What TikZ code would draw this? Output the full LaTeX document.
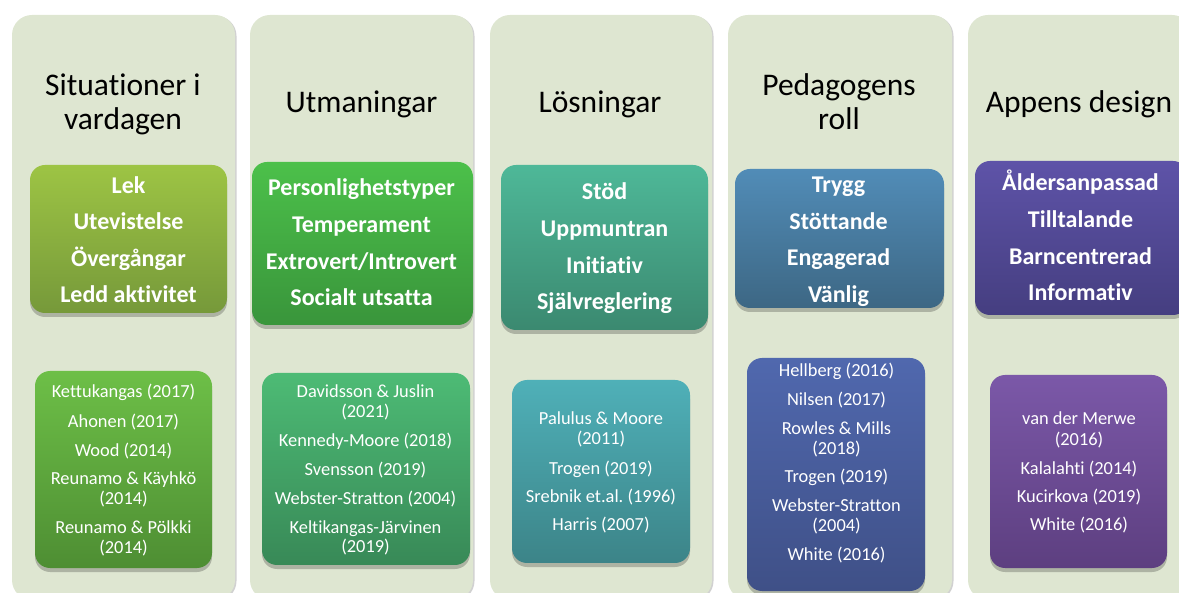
\documentclass[tikz,border=0pt]{standalone}
\usepackage{fontspec}
\setmainfont{Carlito}[Ligatures={NoCommon}]
\usetikzlibrary{shadows}
\definecolor{panelc}{HTML}{DEE6D1}
\definecolor{aT}{HTML}{9DC444}\definecolor{aB}{HTML}{76993A}
\definecolor{aaT}{HTML}{6DBF47}\definecolor{aaB}{HTML}{4E8E33}
\definecolor{bT}{HTML}{4CC04A}\definecolor{bB}{HTML}{39953B}
\definecolor{bbT}{HTML}{4DBB75}\definecolor{bbB}{HTML}{388957}
\definecolor{cT}{HTML}{4EB898}\definecolor{cB}{HTML}{3B8970}
\definecolor{ccT}{HTML}{4FB0B8}\definecolor{ccB}{HTML}{3C8488}
\definecolor{dT}{HTML}{518CB7}\definecolor{dB}{HTML}{3D6784}
\definecolor{ddT}{HTML}{5068AE}\definecolor{ddB}{HTML}{3F5087}
\definecolor{eT}{HTML}{5E53A8}\definecolor{eB}{HTML}{453E80}
\definecolor{eeT}{HTML}{7B58A8}\definecolor{eeB}{HTML}{5D3F80}
\tikzset{
  panel/.style={fill=panelc, rounded corners=20pt, draw=none,
    drop shadow={shadow xshift=1.5pt, shadow yshift=-1pt, opacity=0.18, fill=black}},
  cbox/.style n args={2}{rounded corners=15pt, draw=none, top color=#1, bottom color=#2,
    drop shadow={shadow xshift=0pt, shadow yshift=-4pt, opacity=0.22, fill=black}},
  hdr/.style={anchor=base, inner sep=0pt, font=\fontsize{31.5}{34}\selectfont, text=black},
  kw/.style={anchor=base, inner sep=0pt, font=\fontsize{24}{26}\selectfont\bfseries, text=white},
  rf/.style={anchor=base, inner sep=0pt, font=\fontsize{18.4}{20}\selectfont, text=white},
}
\begin{document}
\begin{tikzpicture}[x=1pt,y=-1pt]
\useasboundingbox (0,0) rectangle (1179,593);
% panels
\path[panel] (12,15) rectangle (235,600);
\path[panel] (250,15) rectangle (473,600);
\path[panel] (490,15) rectangle (712,600);
\path[panel] (728,15) rectangle (952,600);
\path[panel] (968,15) rectangle (1192,600);
% headers
\node[hdr] (h1a) at (123,96) {Situationer i};
\node[hdr] (h1b) at (123,130) {vardagen};
\node[hdr] (h2) at (361.5,113) {Utmaningar};
\node[hdr] (h3) at (600,113) {Lösningar};
\node[hdr] (h4a) at (839,96) {Pedagogens};
\node[hdr] (h4b) at (839,130) {roll};
\node[hdr] (h5) at (1079,113) {Appens design};
% top boxes
\path[cbox={aT}{aB}] (30,165) rectangle (227,313);
\path[cbox={bT}{bB}] (252,162) rectangle (473,325);
\path[cbox={cT}{cB}] (501,165) rectangle (708,330);
\path[cbox={dT}{dB}] (735,169) rectangle (944,308);
\path[cbox={eT}{eB}] (975,161) rectangle (1188,315);
% bottom boxes
\path[cbox={aaT}{aaB}] (35,371) rectangle (212,568);
\path[cbox={bbT}{bbB}] (262,373) rectangle (470,565);
\path[cbox={ccT}{ccB}] (512,380) rectangle (690,563);
\path[cbox={ddT}{ddB}] (747,358) rectangle (925,591);
\path[cbox={eeT}{eeB}] (990,375) rectangle (1167,568);
% column 1 keywords
\node[kw] (k11) at (128.5,194) {Lek};
\node[kw] (k12) at (128.5,230) {Utevistelse};
\node[kw] (k13) at (128.5,266.5) {Övergångar};
\node[kw] (k14) at (128.5,303) {Ledd aktivitet};
% column 2 keywords
\node[kw] (k21) at (361.5,196) {Personlighetstyper};
\node[kw] (k22) at (361.5,233) {Temperament};
\node[kw] (k23) at (361.5,269.5) {Extrovert/Introvert};
\node[kw] (k24) at (361.5,306) {Socialt utsatta};
% column 3 keywords
\node[kw] (k31) at (604.5,200) {Stöd};
\node[kw] (k32) at (604.5,237) {Uppmuntran};
\node[kw] (k33) at (604.5,273.5) {Initiativ};
\node[kw] (k34) at (604.5,309.5) {Självreglering};
% column 4 keywords
\node[kw] (k41) at (838.5,193) {Trygg};
\node[kw] (k42) at (838.5,229.5) {Stöttande};
\node[kw] (k43) at (838.5,266) {Engagerad};
\node[kw] (k44) at (838.5,302.5) {Vänlig};
% column 5 keywords
\node[kw] (k51) at (1080.5,191) {Åldersanpassad};
\node[kw] (k52) at (1080.5,228) {Tilltalande};
\node[kw] (k53) at (1080.5,264.5) {Barncentrerad};
\node[kw] (k54) at (1080.5,301) {Informativ};
% column 1 references
\node[rf] (r11) at (123.5,398) {Kettukangas (2017)};
\node[rf] (r12) at (123.5,427.5) {Ahonen (2017)};
\node[rf] (r13) at (123.5,456.5) {Wood (2014)};
\node[rf] (r14) at (123.5,485) {Reunamo \& Käyhkö};
\node[rf] (r15) at (123.5,504.5) {(2014)};
\node[rf] (r16) at (123.5,534) {Reunamo \& Pölkki};
\node[rf] (r17) at (123.5,553.5) {(2014)};
% column 2 references
\node[rf] (r21) at (365.5,398) {Davidsson \& Juslin};
\node[rf] (r22) at (365.5,418) {(2021)};
\node[rf] (r23) at (365.5,447) {Kennedy-Moore (2018)};
\node[rf] (r24) at (365.5,476) {Svensson (2019)};
\node[rf] (r25) at (365.5,504.5) {Webster-Stratton (2004)};
\node[rf] (r26) at (365.5,533) {Keltikangas-Järvinen};
\node[rf] (r27) at (365.5,553) {(2019)};
% column 3 references
\node[rf] (r31) at (601,425) {Palulus \& Moore};
\node[rf] (r32) at (601,445) {(2011)};
\node[rf] (r33) at (601,475) {Trogen (2019)};
\node[rf] (r34) at (601,503) {Srebnik et.al.\ (1996)};
\node[rf] (r35) at (601,531) {Harris (2007)};
% column 4 references
\node[rf] (r41) at (836.5,377) {Hellberg (2016)};
\node[rf] (r42) at (836.5,406) {Nilsen (2017)};
\node[rf] (r43) at (836.5,434.5) {Rowles \& Mills};
\node[rf] (r44) at (836.5,454.5) {(2018)};
\node[rf] (r45) at (836.5,483) {Trogen (2019)};
\node[rf] (r46) at (836.5,512) {Webster-Stratton};
\node[rf] (r47) at (836.5,532) {(2004)};
\node[rf] (r48) at (836.5,560.5) {White (2016)};
% column 5 references
\node[rf] (r51) at (1079,425) {van der Merwe};
\node[rf] (r52) at (1079,446) {(2016)};
\node[rf] (r53) at (1079,474.5) {Kalalahti (2014)};
\node[rf] (r54) at (1079,503) {Kucirkova (2019)};
\node[rf] (r55) at (1079,531) {White (2016)};
\end{tikzpicture}
\end{document}
